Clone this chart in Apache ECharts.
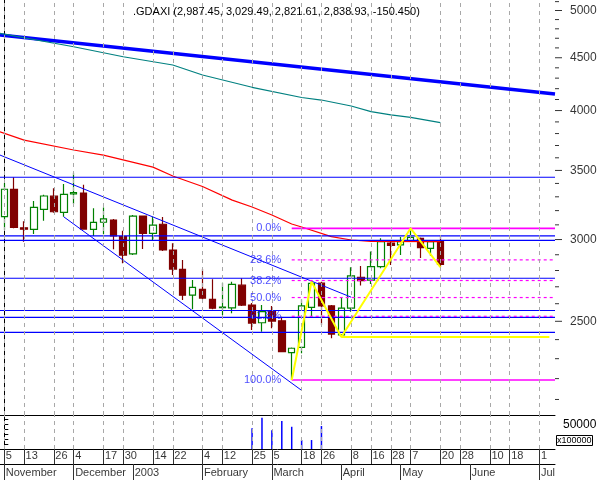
<!DOCTYPE html>
<html><head><meta charset="utf-8">
<script src="https://cdn.jsdelivr.net/npm/echarts@6/dist/echarts.min.js"></script>
<style>html,body{margin:0;padding:0;background:#fff}#c{width:600px;height:480px}</style>
</head><body><div id="c"></div>
<script>
// ---- data (3-day bars, index = bar number) ----
const titleText = '.GDAXI (2,987.45, 3,029.49, 2,821.61, 2,838.93, -150.450)';
const barIndex = [0,1,2,3,4,5,6,7,8,9,10,11,12,13,14,15,16,17,18,19,20,21,22,23,24,25,26,27,28,29,30,31,32,33,34,35,36,37,38,39,40,41,42,43,44];
const openP  = [3157,3355,3080,3069,3209,3305,3187,3322,3328,3069,3118,3133,3019,2905,3161,3042,3104,2931,2807,2650,2684,2625,2577,2576,2710,2592,2492,2555,2503,2331,2359,2579,2722,2587,2425,2574,2758,2741,2824,2977,2964,2993,3008,2942,2987.45];
const closeP = [3356,3083,3070,3223,3306,3192,3318,3332,3071,3117,3142,3024,2898,3161,3042,3098,2931,2809,2650,2696,2633,2574,2581,2715,2592,2490,2554,2501,2336,2354,2587,2721,2587,2430,2574,2766,2737,2824,2986,2961,2986,3015,2947,2986,2838.93];
const lowP   = [3064,3077,2986,3037,3128,3185,3156,3247,3067,3024,3035,2936,2845,2898,2938,2997,2925,2772,2621,2568,2625,2568,2535,2545,2587,2452,2443,2461,2335,2193,2328,2526,2480,2407,2416,2554,2707,2717,2814,2835,2898,2990,2879,2892,2821.61];
const highP  = [3401,3447,3125,3269,3315,3363,3396,3482,3390,3216,3223,3140,3059,3168,3165,3156,3154,2975,2866,2741,2809,2745,2725,2731,2752,2604,2592,2587,2526,2358,2625,2731,2730,2592,2637,2820,2828,2921,3008,2984,3017,3076,3013,2990,3029.49];

const volIndex = [25,26,27,28,29,30,31,32];
const volValue = [41900,63400,37800,56700,45100,18200,18200,46600];

// moving averages [bar, value]
const tealMA = [[-0.434,4752],[7,4612],[12,4510],[17,4428],[20,4330],[25,4213],[30,4118],[32,4095],[35,4041],[37,3990],[39,3961],[41,3940],[44,3893]];
const redMA  = [[-0.434,3815],[2,3745],[7,3663],[10,3622],[15,3526],[17,3457],[20,3377],[23,3276],[25,3226],[27,3169],[29,3106],[30,3085],[33,3020],[35,2997],[37,2988],[44,2986]];
const longTrend = [4734, 4150];            // thick blue line, left edge / right edge
const channelUpper = [[-0.434,3622],[35,2638]];
const channelLower = [[6,3156],[30,2143]];
const levelLines = [3447,3024,2995,2752,2561,2522,2439];
const fibStart = 29;
const fibLevels = [3076,2867,2738,2636,2528,2193];
const fibLabels = ['0.0%','23.6%','38.2%','50.0%','61.8%','100.0%'];
const zigzag = [[29,2193],[31,2731],[34,2414],[41,3076],[44,2821.61]];
const zigzagFlat = [[34,2414],[55,2414]];

const priceMajor = [2500,3000,3500,4000,4500,5000];
const priceMinor = [2100,2200,2300,2400,2600,2700,2800,2900,3100,3200,3300,3400,3600,3700,3800,3900,4100,4200,4300,4400,4600,4700,4800,4900,5100];

const dayIndex  = [0,2,5,7,10,12,15,17,20,22,25,27,30,32,35,37,39,41,44,46,49,51,54];
const dayLabels = ['5','13','26','4','17','30','14','22','4','12','25','5','18','26','8','16','28','7','20','28','10','18','1'];
const monthIndex  = [0,7,13,20,27,34,40,47,54];
const monthLabels = ['November','December','2003','February','March','April','May','June','Jul'];

// ---- chart ----
const FONT = 'Liberation Sans, Arial, sans-serif';
const X_MIN = -0.434, X_MAX = 55.566;
const P_MIN = 2028.5, P_MAX = 5118.5;
const V_MAX = 69000;

function xAx(g, extra){return Object.assign({type:'value',gridIndex:g,min:X_MIN,max:X_MAX,axisLine:{show:false},axisTick:{show:false},axisLabel:{show:false},splitLine:{show:false}},extra||{});}
function line(data,color,width,type,z){return {type:'line',xAxisIndex:0,yAxisIndex:0,data:data,symbol:'none',silent:true,z:z||4,lineStyle:{color:color,width:width,type:type||'solid'}};}

const series = [];
// dashed vertical grid lines
[0,1].forEach(g=>series.push({type:'line',xAxisIndex:g,yAxisIndex:g,data:[],z:1,silent:true,
  markLine:{silent:true,symbol:['none','none'],label:{show:false},animation:false,
    lineStyle:{color:'#a8a8a8',width:1,type:[4,4]},data:dayIndex.map(i=>({xAxis:i}))}}));
series.push(line([[X_MIN,longTrend[0]],[X_MAX,longTrend[1]]],'#0000ff',3.5));
series.push(line(tealMA,'#008080',1.2));
series.push(line(redMA,'#ff0000',1.2));
series.push({type:'candlestick',xAxisIndex:0,yAxisIndex:0,barWidth:7,z:2,silent:true,
  data:barIndex.map((i,k)=>[i,openP[k],closeP[k],lowP[k],highP[k]]),
  itemStyle:{color:'#ffffff',color0:'#800000',borderColor:'#008000',borderColor0:'#800000',borderWidth:1.2}});
levelLines.forEach(v=>series.push(line([[X_MIN,v],[X_MAX,v]],'#0000ff',1.2)));
series.push(line(channelUpper,'#0000ff',1));
series.push(line(channelLower,'#0000ff',1));
fibLevels.forEach((v,k)=>{
  const solid = (k===0||k===fibLevels.length-1);
  series.push(line([[fibStart,v],[X_MAX,v]],'#ff00ff',solid?1.6:1.2,solid?'solid':[3,3]));
});
series.push({type:'scatter',xAxisIndex:0,yAxisIndex:0,symbolSize:1,silent:true,z:6,
  itemStyle:{color:'rgba(0,0,0,0)'},
  data:fibLevels.map((v,k)=>({value:[fibStart,v],name:fibLabels[k]})),
  label:{show:true,position:'left',distance:10,formatter:'{b}',color:'#1a1aff',fontSize:11,fontFamily:FONT}});
series.push(line(zigzag,'#ffff00',2,'solid',7));
series.push(line(zigzagFlat,'#ffff00',2,'solid',7));
// volume
series.push({type:'bar',xAxisIndex:1,yAxisIndex:1,barWidth:1.5,silent:true,
  data:volIndex.map((i,k)=>[i,volValue[k]]),itemStyle:{color:'#0000ff'}});
// price axis ticks & labels
series.push({type:'scatter',xAxisIndex:0,yAxisIndex:0,clip:false,silent:true,symbol:'rect',symbolSize:[7,1],symbolOffset:[3.5,0],
  itemStyle:{color:'#000'},data:priceMajor.map(v=>[X_MAX,v]),
  label:{show:true,position:'right',distance:8,formatter:p=>String(p.value[1]),color:'#000',fontSize:12,fontFamily:FONT}});
series.push({type:'scatter',xAxisIndex:0,yAxisIndex:0,clip:false,silent:true,symbol:'rect',symbolSize:[4,1],symbolOffset:[2,0],
  itemStyle:{color:'#000'},data:priceMinor.map(v=>[X_MAX,v])});
// date label rows
series.push({type:'scatter',xAxisIndex:2,yAxisIndex:2,symbolSize:1,silent:true,itemStyle:{color:'rgba(0,0,0,0)'},
  data:dayIndex.map((i,k)=>({value:[i,0.55],name:dayLabels[k]})),
  label:{show:true,position:'right',distance:1,formatter:'{b}',color:'#000',fontSize:11,fontFamily:FONT},
  markLine:{silent:true,symbol:['none','none'],label:{show:false},animation:false,lineStyle:{color:'#333',width:1,type:'solid'},data:dayIndex.map(i=>({xAxis:i}))}});
series.push({type:'scatter',xAxisIndex:3,yAxisIndex:3,symbolSize:1,silent:true,itemStyle:{color:'rgba(0,0,0,0)'},
  data:monthIndex.map((i,k)=>({value:[i,0.45],name:monthLabels[k]})),
  label:{show:true,position:'right',distance:1,formatter:'{b}',color:'#000',fontSize:11,fontFamily:FONT},
  markLine:{silent:true,symbol:['none','none'],label:{show:false},animation:false,lineStyle:{color:'#333',width:1,type:'solid'},data:monthIndex.map(i=>({xAxis:i}))}});

const option = {
  animation:false,
  backgroundColor:'#ffffff',
  textStyle:{fontFamily:FONT},
  title:[
    {text:titleText,left:133,top:6,padding:0,textStyle:{fontSize:11,fontWeight:'normal',color:'#000',fontFamily:FONT}},
    {text:'x100000',left:556,top:435,padding:[1,1,1,1],borderColor:'#000',borderWidth:1,textStyle:{fontSize:9,fontWeight:'normal',color:'#000',fontFamily:FONT}}
  ],
  grid:[
    {left:0,top:0,width:555,height:415},
    {left:0,top:415,width:555,height:34},
    {left:0,top:449,width:555,height:15},
    {left:0,top:464,width:555,height:16}
  ],
  xAxis:[
    xAx(0,{position:'bottom',axisLine:{show:true,onZero:false,lineStyle:{color:'#000',width:1}}}),
    xAx(1,{position:'bottom',axisLine:{show:true,onZero:false,lineStyle:{color:'#000',width:1}}}),
    xAx(2),
    xAx(3,{position:'top',axisLine:{show:true,onZero:false,lineStyle:{color:'#000',width:1}}})
  ],
  yAxis:[
    {type:'log',logBase:10,gridIndex:0,min:P_MIN,max:P_MAX,position:'right',axisLine:{show:true,lineStyle:{color:'#000'}},axisTick:{show:false},axisLabel:{show:false},splitLine:{show:false},minorTick:{show:false}},
    {type:'value',gridIndex:1,min:0,max:V_MAX,interval:10000,position:'right',axisLine:{show:true,lineStyle:{color:'#000'}},
      axisTick:{show:true,length:4,lineStyle:{color:'#000'}},splitLine:{show:false},
      axisLabel:{show:true,margin:8,fontSize:12,color:'#000',fontFamily:FONT,formatter:v=>v===50000?'50000':''}},
    {type:'value',gridIndex:2,min:0,max:1,show:false},
    {type:'value',gridIndex:3,min:0,max:1,show:false}
  ],
  series:series
};
const chart = echarts.init(document.getElementById('c'));
chart.setOption(option);
</script></body></html>
